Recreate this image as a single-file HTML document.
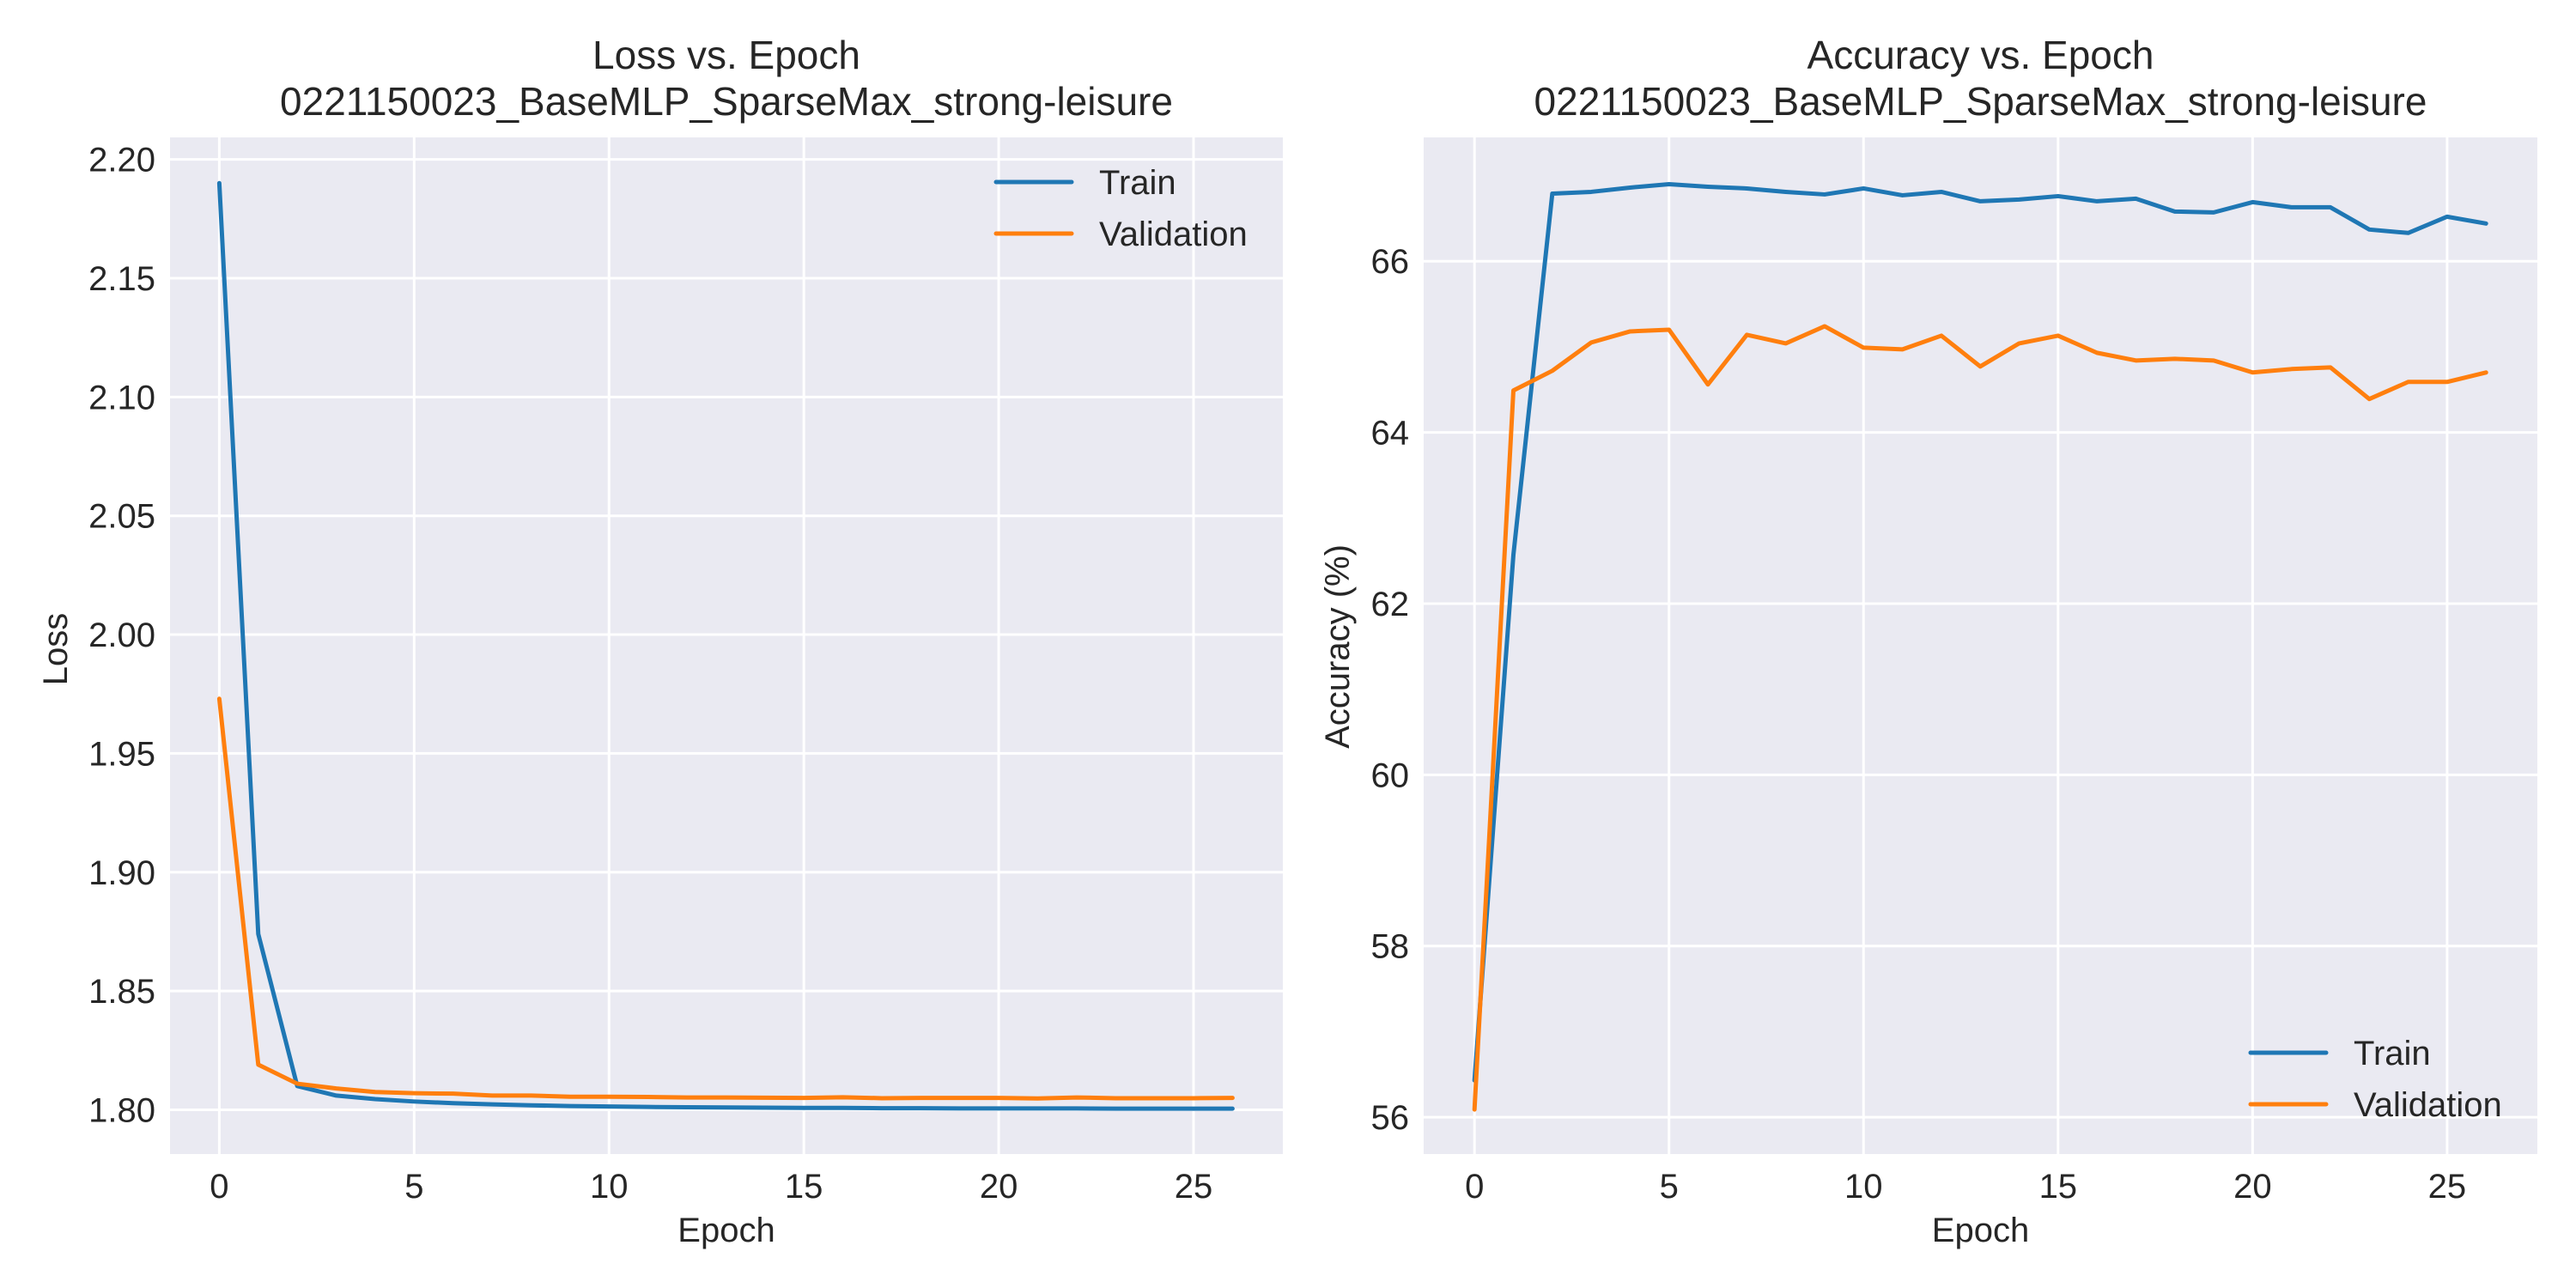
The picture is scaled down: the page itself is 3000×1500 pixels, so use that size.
<!DOCTYPE html>
<html><head><meta charset="utf-8">
<style>
html,body{margin:0;padding:0;background:#fff;}
svg{display:block;font-family:"Liberation Sans",Arial,sans-serif;}
</style></head>
<body>
<svg id="fig" width="3000" height="1500" viewBox="0 0 3000 1500"></svg>
<script>
const epochs = [0,1,2,3,4,5,6,7,8,9,10,11,12,13,14,15,16,17,18,19,20,21,22,23,24,25,26];
const lossTrain = [2.190,1.874,1.810,1.806,1.8045,1.8035,1.8028,1.8023,1.8019,1.8016,1.8014,1.8012,1.8011,1.8010,1.8009,1.8008,1.8008,1.8007,1.8007,1.8006,1.8006,1.8006,1.8006,1.8005,1.8005,1.8005,1.8005];
const lossVal = [1.973,1.819,1.811,1.809,1.8075,1.807,1.8068,1.806,1.806,1.8055,1.8055,1.8054,1.8052,1.8052,1.8051,1.805,1.8053,1.8049,1.805,1.805,1.805,1.8048,1.8052,1.8049,1.8049,1.8049,1.805];
const accTrain = [56.43,62.57,66.79,66.81,66.86,66.90,66.87,66.85,66.81,66.78,66.85,66.77,66.81,66.70,66.72,66.76,66.70,66.73,66.58,66.57,66.69,66.63,66.63,66.37,66.33,66.52,66.44];
const accVal = [56.09,64.49,64.72,65.05,65.18,65.20,64.56,65.14,65.04,65.24,64.99,64.97,65.13,64.77,65.04,65.13,64.93,64.84,64.86,64.84,64.70,64.74,64.76,64.39,64.59,64.59,64.70];
const xTicks = [0,5,10,15,20,25];
const lossTicks = [1.80,1.85,1.90,1.95,2.00,2.05,2.10,2.15,2.20];
const accTicks = [56,58,60,62,64,66];

const NS="http://www.w3.org/2000/svg";
const svg=document.getElementById('fig');
function mk(tag,attrs,parent){const e=document.createElementNS(NS,tag);for(const k in attrs)e.setAttribute(k,attrs[k]);(parent||svg).appendChild(e);return e;}

function panel(cfg){
  const g=mk('g',{});
  
  
  const bg=mk('rect',{x:cfg.L,y:cfg.T,width:cfg.R-cfg.L,height:cfg.B-cfg.T,fill:'#eaeaf2'},g);
  
  
  const sx=v=>cfg.x0+(v-0)*(cfg.x25-cfg.x0)/25;
  const sy=v=>cfg.yA+(v-cfg.vA)*(cfg.yB-cfg.yA)/(cfg.vB-cfg.vA);
  xTicks.forEach(t=>{
    const l=mk('line',{x1:sx(t),x2:sx(t),y1:cfg.T,y2:cfg.B,stroke:'#fff','stroke-width':3},g);
    
    
    const tx=mk('text',{x:sx(t),y:1395,'font-size':40,'text-anchor':'middle',fill:'#262626'},g);
    tx.textContent=t;
    
    
  });
  cfg.yTicks.forEach(t=>{
    const l=mk('line',{x1:cfg.L,x2:cfg.R,y1:sy(t),y2:sy(t),stroke:'#fff','stroke-width':3},g);
    
    
    const tx=mk('text',{x:cfg.L-17,y:sy(t)+14,'font-size':40,'text-anchor':'end',fill:'#262626'},g);
    tx.textContent=t.toFixed(cfg.dec);
    
    
  });
  [[cfg.s1,'#1f77b4','train-line'],[cfg.s2,'#ff7f0e','validation-line']].forEach(([s,c,n])=>{
    const p=mk('polyline',{points:epochs.map((e,i)=>sx(e)+','+sy(s[i])).join(' '),fill:'none',stroke:c,'stroke-width':5,'stroke-linejoin':'round','stroke-linecap':'round'},g);
    
    
  });
  [['Train','#1f77b4',cfg.legY],['Validation','#ff7f0e',cfg.legY+60]].forEach(([t,c,y])=>{
    const l=mk('line',{x1:cfg.legX,x2:cfg.legX+88,y1:y,y2:y,stroke:c,'stroke-width':5,'stroke-linecap':'round'},g);
    
    
    const tx=mk('text',{x:cfg.legX+120,y:y+14,'font-size':40,fill:'#262626'},g);
    tx.textContent=t;
    
    
  });
  const cx=(cfg.L+cfg.R)/2;
  const t1=mk('text',{x:cx,y:80,'font-size':46,'text-anchor':'middle',fill:'#262626'},g);
  t1.textContent=cfg.title;
  
  
  const t2=mk('text',{x:cx,y:134,'font-size':46,'text-anchor':'middle',fill:'#262626'},g);
  t2.textContent='0221150023_BaseMLP_SparseMax_strong-leisure';
  
  
  const xl=mk('text',{x:cx,y:1446,'font-size':40,'text-anchor':'middle',fill:'#262626'},g);
  xl.textContent='Epoch';
  
  
  const yl=mk('text',{x:0,y:0,'font-size':40,'text-anchor':'middle',fill:'#262626',transform:`translate(${cfg.ylX},${cfg.ylY}) rotate(-90)`},g);
  yl.textContent=cfg.ylabel;
  
  
}

panel({name:'loss-chart',L:198,R:1494,T:160,B:1344,x0:255.4,x25:1390,vA:1.80,yA:1292.5,vB:2.20,yB:185.6,
  yTicks:lossTicks,dec:2,s1:lossTrain,s2:lossVal,legX:1160,legY:212,title:'Loss vs. Epoch',ylabel:'Loss',ylX:78,ylY:756});
panel({name:'accuracy-chart',L:1658,R:2955,T:160,B:1344,x0:1717.2,x25:2849.9,vA:56,yA:1301.1,vB:66,yB:304.2,
  yTicks:accTicks,dec:0,s1:accTrain,s2:accVal,legX:2621,legY:1226,title:'Accuracy vs. Epoch',ylabel:'Accuracy (%)',ylX:1571,ylY:753});
</script>
</body></html>
